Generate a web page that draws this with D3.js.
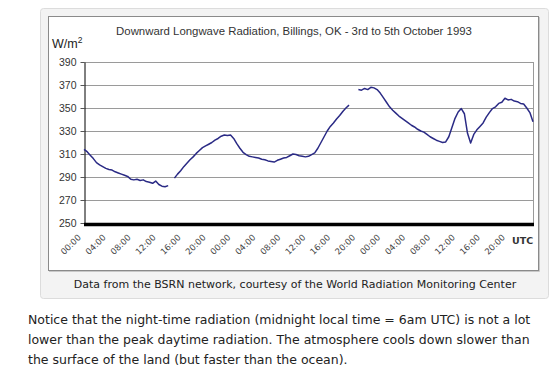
<!DOCTYPE html>
<html>
<head>
<meta charset="utf-8">
<script src="https://cdn.jsdelivr.net/npm/d3@7"></script>
<style>
  html, body { margin: 0; padding: 0; background: #fff; }
  svg { display: block; }
</style>
</head>
<body>
<svg id="chart" width="558" height="369"></svg>
<script>
// ---- data ----
const title = "Downward Longwave Radiation, Billings, OK - 3rd to 5th October 1993";
const unitLabel = "W/m";
const yTicks = [250, 270, 290, 310, 330, 350, 370, 390];
const xTickHours = [0, 4, 8, 12, 16, 20, 24, 28, 32, 36, 40, 44, 48, 52, 56, 60, 64, 68];
const xTickLabels = ["00:00","04:00","08:00","12:00","16:00","20:00","00:00","04:00","08:00","12:00","16:00","20:00","00:00","04:00","08:00","12:00","16:00","20:00"];
const hourStep = 0.5; // one reading every half hour, from 00:00 on the 3rd
const radiation = [
  314, 312, 309, 306, 302.5, 300.5, 299, 297.5, 296.5, 296, 294.5, 293.5, 292.5, 291.5, 290.5, 288,
  287.5, 288, 287, 287.5, 286, 285.5, 284.5, 286.5, 283.5, 282, 281.5, 282.5, null, 289, 292.5, 295.5,
  299, 302, 305, 307.5, 310.5, 313, 315.5, 317, 318.5, 320, 322, 323.5, 325.5, 326.5, 326, 326.5,
  323.5, 319, 315, 311.5, 309.5, 308, 307.5, 307, 306.5, 305.5, 305, 304, 303.5, 303, 304.5, 305.5,
  306.5, 307, 308.5, 310, 309.5, 308.5, 308, 307.5, 308, 309.5, 311, 315, 320, 325, 330, 334,
  337, 340.5, 343.5, 347, 350, 352.5, null, null, 366, 365.5, 367, 366, 368, 367.5, 366, 363,
  359, 355, 351, 348, 345.5, 343, 341, 339, 337, 335, 333.5, 331.5, 330, 329, 327, 325,
  323.5, 322, 321, 320, 320.5, 325, 333, 341, 346.5, 349.5, 345, 328, 319.5, 327, 331, 334,
  337, 342, 346, 349.5, 351, 354, 355, 358.5, 357, 357.5, 356, 355.5, 354, 353.5, 350, 346, 338
];
const axisEndLabel = "UTC";
const captionText = "Data from the BSRN network, courtesy of the World Radiation Monitoring Center";
const paragraphLines = [
  "Notice that the night-time radiation (midnight local time = 6am UTC) is not a lot",
  "lower than the peak daytime radiation. The atmosphere cools down slower than",
  "the surface of the land (but faster than the ocean)."
];

// ---- drawing ----
const svg = d3.select("#chart");
const plot = { left: 84, right: 533, top: 62, bottom: 223 };
const x = d3.scaleLinear().domain([0, 72]).range([plot.left, plot.right]);
const y = d3.scaleLinear().domain([250, 390]).range([plot.bottom, plot.top]);

// figure frame
svg.append("rect").attr("x", 40.5).attr("y", 8.5).attr("width", 508).attr("height", 290)
  .attr("rx", 3).attr("fill", "#f3f3f3").attr("stroke", "#dcdcdc");
svg.append("rect").attr("x", 48.5).attr("y", 16.5).attr("width", 490).attr("height", 254)
  .attr("fill", "#fff").attr("stroke", "#8a8a8a");
svg.append("line").attr("x1", 539.5).attr("x2", 539.5).attr("y1", 17).attr("y2", 271.5)
  .attr("stroke", "#c8c8c8");
svg.append("line").attr("x1", 49).attr("x2", 539.5).attr("y1", 271.5).attr("y2", 271.5)
  .attr("stroke", "#c8c8c8");

// title
svg.append("text").attr("x", 294).attr("y", 35).attr("text-anchor", "middle")
  .attr("font-family", "Liberation Sans, Arial, sans-serif").attr("font-size", 11.4)
  .attr("fill", "#333").text(title);

// unit
const unit = svg.append("text").attr("x", 52).attr("y", 48)
  .attr("font-family", "Liberation Sans, Arial, sans-serif").attr("font-size", 12.5).attr("fill", "#222");
unit.append("tspan").text(unitLabel);
unit.append("tspan").attr("font-size", 8.5).attr("dy", -5).text("2");

// gridlines
svg.append("g").selectAll("line").data(yTicks.filter(v => v > 250)).join("line")
  .attr("x1", plot.left).attr("x2", plot.right)
  .attr("y1", d => Math.round(y(d)) + 0.5).attr("y2", d => Math.round(y(d)) + 0.5)
  .attr("stroke", "#9a9a9a");
svg.append("line").attr("x1", plot.right + 0.5).attr("x2", plot.right + 0.5)
  .attr("y1", y(390)).attr("y2", y(250)).attr("stroke", "#9a9a9a");

// y axis
const yAxis = svg.append("g").attr("transform", `translate(${plot.left + 0.5},0)`)
  .call(d3.axisLeft(y).tickValues(yTicks).tickSize(4).tickPadding(4).tickSizeOuter(0));
yAxis.select(".domain").attr("stroke", "#000");
yAxis.selectAll(".tick line").attr("stroke", "#555");
yAxis.selectAll(".tick text").attr("font-family", "Liberation Sans, Arial, sans-serif")
  .attr("font-size", 10.5).attr("fill", "#333");

// x axis labels
const xAxis = svg.append("g").attr("transform", `translate(0,${plot.bottom})`)
  .call(d3.axisBottom(x).tickValues(xTickHours).tickSize(0).tickFormat((d, i) => xTickLabels[i]));
xAxis.select(".domain").remove();
xAxis.selectAll(".tick text")
  .attr("font-family", "DejaVu Sans, Verdana, sans-serif").attr("font-size", 8.5).attr("fill", "#444")
  .attr("text-anchor", "end").attr("dy", null).attr("y", null)
  .attr("transform", "translate(-3,15) rotate(-45)");

// thick bottom axis line
svg.append("line").attr("x1", plot.left).attr("x2", plot.right + 1)
  .attr("y1", y(250) + 1.5).attr("y2", y(250) + 1.5).attr("stroke", "#000").attr("stroke-width", 3.5);

svg.append("text").attr("x", 512).attr("y", 244)
  .attr("font-family", "DejaVu Sans, Verdana, sans-serif").attr("font-size", 9.5).attr("font-weight", "bold")
  .attr("fill", "#333").text(axisEndLabel);

// data line
const line = d3.line()
  .defined(d => d != null)
  .x((d, i) => x(i * hourStep))
  .y(d => y(d));
svg.append("path").datum(radiation).attr("d", line)
  .attr("fill", "none").attr("stroke", "#2a2a85").attr("stroke-width", 1.5)
  .attr("stroke-linejoin", "round");

// caption
svg.append("text").attr("x", 295).attr("y", 288).attr("text-anchor", "middle")
  .attr("font-family", "DejaVu Sans, Verdana, sans-serif").attr("font-size", 11)
  .attr("fill", "#222").text(captionText);

// paragraph
svg.append("g").selectAll("text").data(paragraphLines).join("text")
  .attr("x", 28).attr("y", (d, i) => 324 + i * 20)
  .attr("font-family", "DejaVu Sans, Verdana, sans-serif").attr("font-size", 12.5)
  .attr("fill", "#222").text(d => d);
</script>
</body>
</html>
